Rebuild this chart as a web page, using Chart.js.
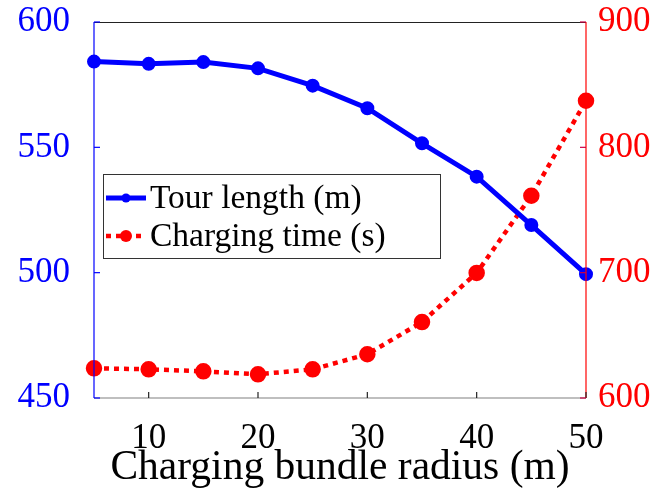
<!DOCTYPE html>
<html><head><meta charset="utf-8">
<script src="https://cdn.jsdelivr.net/npm/chart.js@4/dist/chart.umd.min.js"></script>
<style>html,body{margin:0;padding:0;background:#fff}#wrap{width:654px;height:499px}</style>
</head><body><div id="wrap"><canvas id="c" width="654" height="499"></canvas></div>
<script>
const radii = [5,10,15,20,25,30,35,40,45,50];
const tourLength = [584.2,583.3,584.0,581.5,574.6,565.6,551.6,538.3,519.0,499.4];
const chargingTime = [623.7,622.9,621.3,618.9,622.9,634.9,660.6,699.8,761.4,837.2];
const xTicks = [10,20,30,40,50];
const leftTicks = [450,500,550,600];
const rightTicks = [600,700,800,900];

const FONT = "'Liberation Serif','DejaVu Serif',serif";

const frame = {
  id:'frame',
  afterDraw(chart){
    const {ctx, chartArea:a, scales} = chart;
    ctx.save();
    ctx.lineWidth = 1.2;
    ctx.strokeStyle = '#222';
    ctx.beginPath(); ctx.moveTo(a.left, a.top+0.5); ctx.lineTo(a.right, a.top+0.5); ctx.stroke();
    ctx.strokeStyle = '#808080';
    ctx.beginPath(); ctx.moveTo(a.left, a.bottom); ctx.lineTo(a.right, a.bottom); ctx.stroke();
    ctx.strokeStyle = '#0000ff';
    ctx.beginPath(); ctx.moveTo(a.left, a.top); ctx.lineTo(a.left, a.bottom); ctx.stroke();
    ctx.strokeStyle = '#ff0000';
    ctx.beginPath(); ctx.moveTo(a.right, a.top); ctx.lineTo(a.right, a.bottom); ctx.stroke();
    ctx.strokeStyle = '#222';
    scales.x.ticks.forEach(t=>{ const px = scales.x.getPixelForValue(t.value);
      ctx.beginPath(); ctx.moveTo(px,a.bottom); ctx.lineTo(px,a.bottom-6); ctx.stroke();});
    ctx.strokeStyle = '#0000ff';
    scales.y.ticks.forEach(t=>{ const py = scales.y.getPixelForValue(t.value);
      ctx.beginPath(); ctx.moveTo(a.left,py); ctx.lineTo(a.left+6,py); ctx.stroke();});
    ctx.strokeStyle = '#cc0044';
    scales.y1.ticks.forEach(t=>{ const py = scales.y1.getPixelForValue(t.value);
      ctx.beginPath(); ctx.moveTo(a.right,py); ctx.lineTo(a.right-6,py); ctx.stroke();});
    // legend
    const lx = 103, ly = 174, lw = 337, lh = 84;
    ctx.fillStyle = '#fff'; ctx.fillRect(lx, ly, lw, lh);
    ctx.strokeStyle = '#333'; ctx.lineWidth = 1;
    ctx.strokeRect(lx+0.5, ly+0.5, lw, lh);
    ctx.font = "33.5px " + FONT; ctx.fillStyle = '#000'; ctx.textBaseline = 'middle';
    chart.data.datasets.forEach((ds,i)=>{
      const y = ly + 24 + i*38;
      ctx.strokeStyle = ds.borderColor; ctx.lineWidth = ds.borderWidth;
      ctx.setLineDash(ds.borderDash || []);
      ctx.beginPath(); ctx.moveTo(lx+3, y); ctx.lineTo(lx+43, y); ctx.stroke();
      ctx.setLineDash([]);
      ctx.fillStyle = ds.pointBackgroundColor;
      ctx.beginPath(); ctx.arc(lx+23, y, ds.pointRadius, 0, Math.PI*2); ctx.fill();
      ctx.fillStyle = '#000';
      ctx.fillText(ds.label, lx+47, y+1);
    });
    ctx.restore();
  }
};

function zeroPad(s){ s.paddingTop = 0; s.paddingBottom = 0; s.paddingLeft = 0; s.paddingRight = 0; }

new Chart(document.getElementById('c'), {
  type:'line',
  data:{
    labels: radii,
    datasets:[
      {label:'Tour length (m)', data: radii.map((r,i)=>({x:r,y:tourLength[i]})), yAxisID:'y',
       borderColor:'#0000ff', backgroundColor:'#0000ff', pointBackgroundColor:'#0000ff', pointBorderColor:'#0000ff',
       borderWidth:5, pointRadius:4.5, tension:0, clip:false},
      {label:'Charging time (s)', data: radii.map((r,i)=>({x:r,y:chargingTime[i]})), yAxisID:'y1',
       borderColor:'#ff0000', backgroundColor:'#ff0000', pointBackgroundColor:'#ff0000', pointBorderColor:'#ff0000',
       borderWidth:4.5, borderDash:[5,5], pointRadius:6, tension:0, clip:false}
    ]
  },
  options:{
    responsive:false, animation:false,
    layout:{padding:{top:22, left:0, right:0, bottom:0}},
    plugins:{legend:{display:false}, tooltip:{enabled:false}},
    scales:{
      x:{type:'linear', min:5, max:50,
        afterBuildTicks(s){ s.ticks = xTicks.map(v=>({value:v})); },
        grid:{display:false, drawTicks:false}, border:{display:false},
        ticks:{color:'#000', font:{family:FONT, size:35}, padding:20, maxRotation:0},
        title:{display:true, text:'Charging bundle radius (m)', color:'#000', font:{family:FONT, size:41.5}, padding:{top:0,bottom:6}},
        afterFit(s){ s.height = 101; zeroPad(s); }
      },
      y:{position:'left', min:450, max:600,
        afterBuildTicks(s){ s.ticks = leftTicks.map(v=>({value:v})); },
        grid:{display:false, drawTicks:false}, border:{display:false},
        ticks:{color:'#0000ff', font:{family:FONT, size:35}, padding:24},
        afterFit(s){ s.width = 94; zeroPad(s); }
      },
      y1:{position:'right', min:600, max:900,
        afterBuildTicks(s){ s.ticks = rightTicks.map(v=>({value:v})); },
        grid:{display:false, drawTicks:false}, border:{display:false},
        ticks:{color:'#ff0000', font:{family:FONT, size:35}, padding:12},
        afterFit(s){ s.width = 68; zeroPad(s); }
      }
    }
  },
  plugins:[frame]
});
</script>
</body></html>
